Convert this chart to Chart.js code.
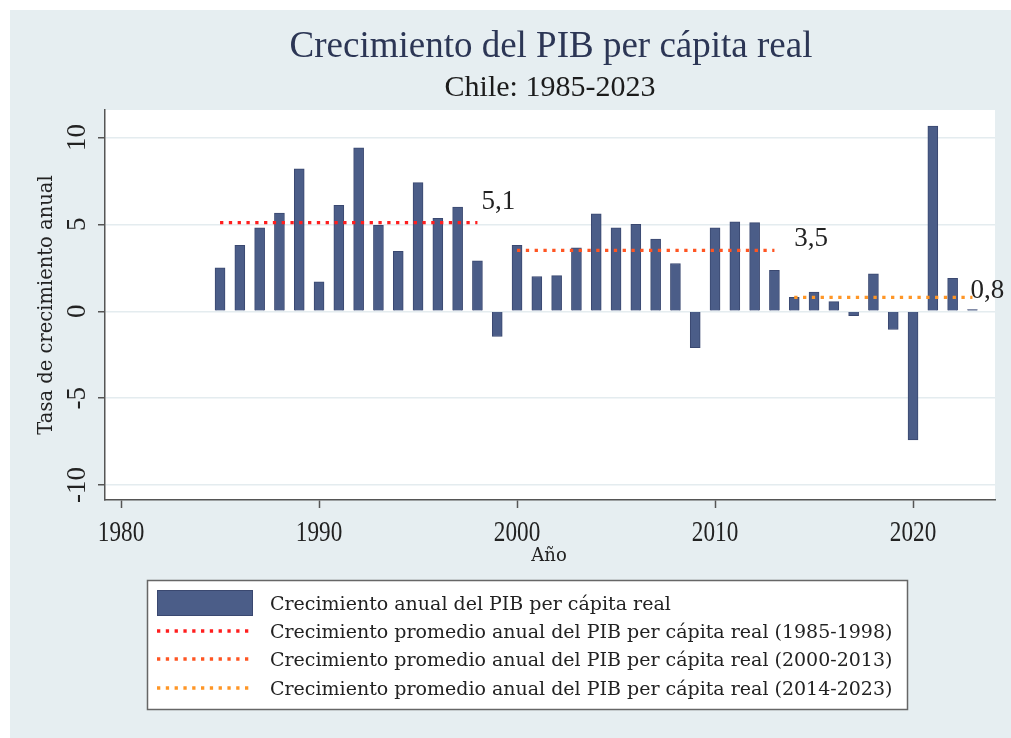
<!DOCTYPE html>
<html>
<head>
<meta charset="utf-8">
<script src="https://cdn.jsdelivr.net/npm/chart.js@4.4.1/dist/chart.umd.min.js"></script>
<style>
  html, body { margin: 0; padding: 0; background: #fff; }
</style>
</head>
<body>
<canvas id="pib" width="1011" height="738"></canvas>
<script>
// datos
const years = [1985, 1986, 1987, 1988, 1989, 1990, 1991, 1992, 1993, 1994,
  1995, 1996, 1997, 1998, 1999, 2000, 2001, 2002, 2003, 2004,
  2005, 2006, 2007, 2008, 2009, 2010, 2011, 2012, 2013, 2014,
  2015, 2016, 2017, 2018, 2019, 2020, 2021, 2022, 2023];
const crecimiento = [2.5, 3.8, 4.8, 5.65, 8.2, 1.7, 6.1, 9.4, 4.95, 3.45,
  7.4, 5.35, 6.0, 2.9, -1.45, 3.8, 2.0, 2.05, 3.65, 5.6,
  4.8, 5.0, 4.15, 2.75, -2.1, 4.8, 5.15, 5.1, 2.35, 0.8,
  1.1, 0.55, -0.25, 2.15, -1.05, -7.4, 10.65, 1.9, 0.1];
const periodoInicio = [1985, 2000, 2014];
const periodoFin = [1998, 2013, 2023];
const promedios = [5.1, 3.5, 0.8];
const promedioTexto = ['5,1', '3,5', '0,8'];
const xTicks = [1980, 1990, 2000, 2010, 2020];
const yTicks = [-10, -5, 0, 5, 10];
const etiquetas = [
  'Crecimiento anual del PIB per cápita real',
  'Crecimiento promedio anual del PIB per cápita real (1985-1998)',
  'Crecimiento promedio anual del PIB per cápita real (2000-2013)',
  'Crecimiento promedio anual del PIB per cápita real (2014-2023)'
];

// donde va cada texto de promedio (en unidades de los ejes)
const textoPos = [[1998.2, 5.88], [2014.0, 3.76], [2022.9, 0.78]];
const coloresProm = ['#ff1e1e', '#ff5522', '#ff9626'];
const FONT = '"Liberation Serif", "Times New Roman", serif';
const FONT2 = '"DejaVu Serif", serif';

const texto = (c, s, x, y, font, color, align, rot, sx) => {
  c.save();
  c.translate(x, y);
  if (rot) c.rotate(rot);
  if (sx) c.scale(sx, 1);
  c.font = font;
  c.fillStyle = color;
  c.textAlign = align || 'center';
  c.textBaseline = 'alphabetic';
  c.fillText(s, 0, 0);
  c.restore();
};

const fondo = {
  id: 'fondo',
  beforeDraw(chart) {
    const c = chart.ctx, a = chart.chartArea;
    c.save();
    c.fillStyle = '#ffffff';
    c.fillRect(0, 0, chart.width, chart.height);
    c.fillStyle = '#e6eef1';
    c.fillRect(10, 10, chart.width - 10, chart.height - 10);
    c.fillStyle = '#ffffff';
    c.fillRect(a.left, a.top, a.right - a.left, a.bottom - a.top);
    c.restore();
  }
};

const textos = {
  id: 'textos',
  afterDraw(chart) {
    const c = chart.ctx;
    const x = chart.scales.x, y = chart.scales.y;

    texto(c, 'Crecimiento del PIB per cápita real', 551, 57, '37px ' + FONT, '#2c3655');
    texto(c, 'Chile: 1985-2023', 550, 96, '30px ' + FONT, '#1c1c1c');

    x.ticks.forEach(t => texto(c, String(t.value), x.getPixelForValue(t.value), 541, '29px ' + FONT, '#222', 'center', 0, 0.8));
    y.ticks.forEach(t => texto(c, String(t.value), 85, y.getPixelForValue(t.value), '27px ' + FONT, '#222', 'center', -Math.PI / 2));

    texto(c, 'Tasa de crecimiento anual', 52, 305, '19.5px ' + FONT2, '#222', 'center', -Math.PI / 2);
    texto(c, 'Año', 549, 561, '18px ' + FONT2, '#222');

    promedioTexto.forEach((s, i) => {
      texto(c, s, x.getPixelForValue(textoPos[i][0]), y.getPixelForValue(textoPos[i][1]), '27px ' + FONT, '#222', 'left');
    });

    // leyenda
    c.save();
    c.fillStyle = '#ffffff';
    c.fillRect(147, 580, 761, 130);
    c.strokeStyle = '#666';
    c.lineWidth = 1.5;
    c.strokeRect(147.5, 580.5, 760, 129);
    const ds = chart.data.datasets;
    c.fillStyle = ds[0].backgroundColor;
    c.fillRect(157, 590, 96, 26);
    c.strokeStyle = ds[0].borderColor;
    c.lineWidth = 1;
    c.strokeRect(157.5, 590.5, 95, 25);
    const filas = [631, 659, 688];
    for (let i = 1; i < ds.length; i++) {
      c.beginPath();
      c.strokeStyle = ds[i].borderColor;
      c.lineWidth = ds[i].borderWidth;
      c.setLineDash(ds[i].borderDash);
      c.moveTo(157, filas[i - 1]);
      c.lineTo(252, filas[i - 1]);
      c.stroke();
    }
    c.setLineDash([]);
    c.restore();
    texto(c, ds[0].label, 270, 610, '19px ' + FONT2, '#222', 'left');
    for (let i = 1; i < ds.length; i++) {
      texto(c, ds[i].label, 270, filas[i - 1] + 7, '19px ' + FONT2, '#222', 'left');
    }
  }
};

const barras = years.map((a, i) => ({ x: a, y: crecimiento[i] }));
const lineas = promedios.map((v, i) => ({
  type: 'line',
  label: etiquetas[i + 1],
  data: [{ x: periodoInicio[i], y: v }, { x: periodoFin[i], y: v }],
  borderColor: coloresProm[i],
  borderWidth: 3.3,
  borderDash: [3.3, 5.5],
  pointRadius: 0,
  order: 1
}));

new Chart(document.getElementById('pib'), {
  type: 'bar',
  data: {
    datasets: [{
      type: 'bar',
      label: etiquetas[0],
      data: barras,
      backgroundColor: '#4b5d88',
      borderColor: '#3a4870',
      borderWidth: 1,
      barThickness: 10,
      order: 2
    }].concat(lineas)
  },
  options: {
    responsive: false,
    animation: false,
    layout: { padding: { left: 0, top: 110, right: 16, bottom: 0 } },
    plugins: {
      legend: { display: false },
      title: { display: false },
      tooltip: { enabled: false }
    },
    scales: {
      x: {
        type: 'linear',
        min: 1979.19,
        max: 2024.14,
        offset: false,
        afterBuildTicks: s => { s.ticks = xTicks.map(v => ({ value: v })); },
        afterFit: s => { s.height = 238; },
        ticks: { display: false },
        grid: { offset: false, drawOnChartArea: false, drawTicks: true, tickLength: 8, tickColor: '#555', tickWidth: 1.5 },
        border: { display: true, color: '#555', width: 1.5 }
      },
      y: {
        min: -10.86,
        max: 11.58,
        afterBuildTicks: s => { s.ticks = yTicks.map(v => ({ value: v })); },
        afterFit: s => { s.width = 105; },
        ticks: { display: false },
        grid: { color: '#e4ecef', lineWidth: 1.5, tickColor: '#555', tickLength: 7, tickWidth: 1.5 },
        border: { display: true, color: '#555', width: 1.5 }
      }
    }
  },
  plugins: [fondo, textos]
});
</script>
</body>
</html>
